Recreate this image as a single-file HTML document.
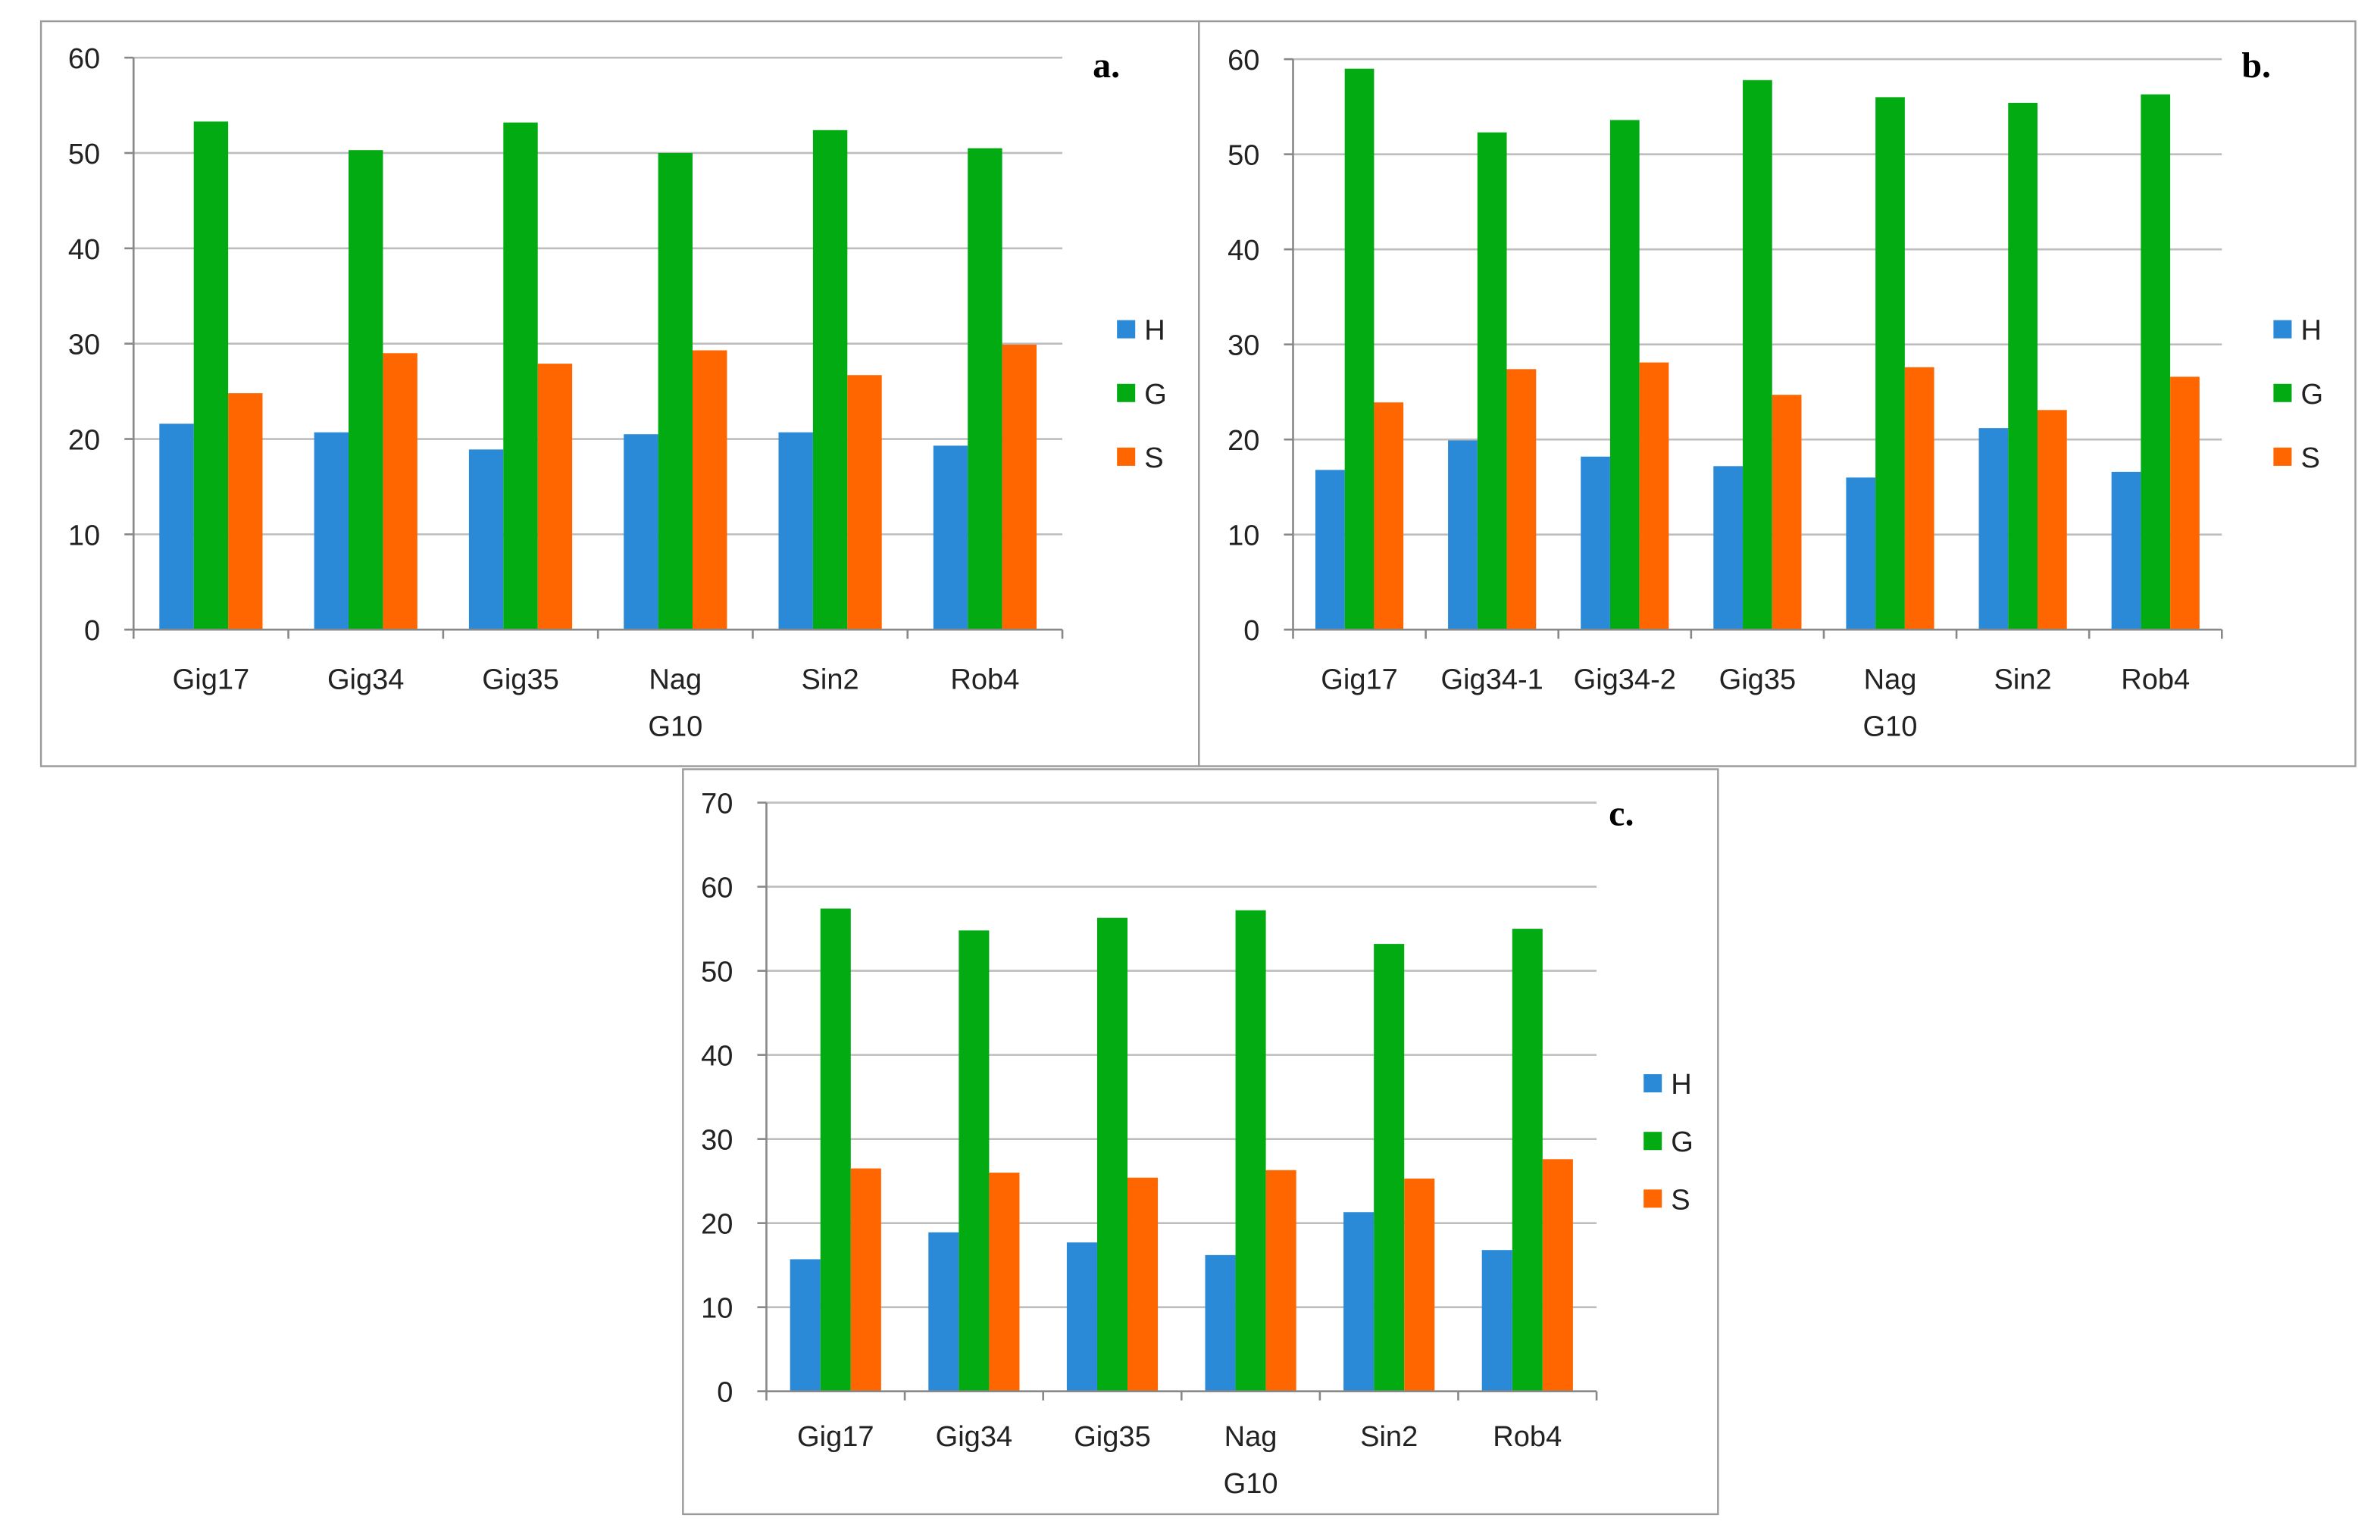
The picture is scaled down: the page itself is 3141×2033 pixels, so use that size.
<!DOCTYPE html>
<html><head><meta charset="utf-8"><style>html,body{margin:0;padding:0;background:#fff}svg{display:block}</style></head>
<body>
<svg id="fig" width="3141" height="2033" viewBox="0 0 1568.2 1015" xmlns="http://www.w3.org/2000/svg" font-family="Liberation Sans, DejaVu Sans, sans-serif">
<rect x="27" y="14" width="763" height="491" fill="none" stroke="#9a9a9a" stroke-width="1.2"/>
<rect x="790" y="14" width="762" height="491" fill="none" stroke="#9a9a9a" stroke-width="1.2"/>
<rect x="450" y="507" width="682" height="491" fill="none" stroke="#9a9a9a" stroke-width="1.2"/>
</svg>
<script>
const seriesNames = ['H','G','S'];
const catsA = [['Gig17'],['Gig34'],['Gig35'],['Nag','G10'],['Sin2'],['Rob4']];
const hA = [21.6,20.7,18.9,20.5,20.7,19.3];
const gA = [53.3,50.3,53.2,50.0,52.4,50.5];
const sA = [24.8,29.0,27.9,29.3,26.7,29.9];
const catsB = [['Gig17'],['Gig34-1'],['Gig34-2'],['Gig35'],['Nag','G10'],['Sin2'],['Rob4']];
const hB = [16.8,19.9,18.2,17.2,16.0,21.2,16.6];
const gB = [59.0,52.3,53.6,57.8,56.0,55.4,56.3];
const sB = [23.9,27.4,28.1,24.7,27.6,23.1,26.6];
const catsC = [['Gig17'],['Gig34'],['Gig35'],['Nag','G10'],['Sin2'],['Rob4']];
const hC = [15.7,18.9,17.7,16.2,21.3,16.8];
const gC = [57.4,54.8,56.3,57.2,53.2,55.0];
const sC = [26.5,26.0,25.4,26.3,25.3,27.6];
const ticksAB = [0,10,20,30,40,50,60];
const ticksC = [0,10,20,30,40,50,60,70];
const colors = ['#2a8ad8','#03ab13','#ff6600'];
const NS='http://www.w3.org/2000/svg';
const svg=document.getElementById('fig');
function mk(tag,attrs,parent){const e=document.createElementNS(NS,tag);for(const k in attrs)e.setAttribute(k,attrs[k]);(parent||svg).appendChild(e);return e;}
function panel(id,cfg,cats,series,ticks){
  const g=mk('g',{});
  
  
  const maxV=ticks[ticks.length-1];
  const y=v=>cfg.y0-(v/maxV)*(cfg.y0-cfg.yTop);
  const slot=(cfg.x1-cfg.x0)/cats.length;
  const xc=i=>cfg.x0+slot*(i+0.5);
  ticks.forEach(t=>{
    if(t>0){const l=mk('line',{x1:cfg.x0,x2:cfg.x1,y1:y(t),y2:y(t),stroke:'#bdbdbd','stroke-width':1.3},g);
    
    }
    const tk=mk('line',{x1:cfg.x0-6,x2:cfg.x0,y1:y(t),y2:y(t),stroke:'#888','stroke-width':1.3},g);
    
    
    const tx=mk('text',{x:cfg.x0-22,y:y(t)+7,'text-anchor':'end','font-size':19,fill:'#222'},g);
    tx.textContent=t;
    
    
  });
  const bw=cfg.gw/3;
  cats.forEach((c,i)=>{
    series.forEach((vals,s)=>{
      const bx=xc(i)-cfg.gw/2+s*bw;
      const r=mk('rect',{x:bx,y:y(vals[i]),width:bw,height:cfg.y0-y(vals[i]),fill:colors[s]},g);
      
      
    });
    c.forEach((line,k)=>{
      const t=mk('text',{x:xc(i),y:cfg.labY+k*31,'text-anchor':'middle','font-size':19,fill:'#222'},g);
      t.textContent=line;
      
      
    });
  });
  for(let i=0;i<=cats.length;i++){
    const xx=cfg.x0+slot*i;
    const tk=mk('line',{x1:xx,x2:xx,y1:cfg.y0,y2:cfg.y0+6,stroke:'#888','stroke-width':1.3},g);
    
    
  }
  const ax=mk('line',{x1:cfg.x0,x2:cfg.x0,y1:cfg.yTop,y2:cfg.y0,stroke:'#888','stroke-width':1.3},g);
  
  
  const xa=mk('line',{x1:cfg.x0-6,x2:cfg.x1,y1:cfg.y0,y2:cfg.y0,stroke:'#888','stroke-width':1.3},g);
  
  
  seriesNames.forEach((n,s)=>{
    const ly=cfg.legY[s];
    const r=mk('rect',{x:cfg.legX,y:ly-6,width:12,height:12,fill:colors[s]},g);
    
    
    const t=mk('text',{x:cfg.legX+18,y:ly+7,'font-size':19,fill:'#222'},g);
    t.textContent=n;
    
    
  });
  const pl=mk('text',{x:cfg.pX,y:cfg.pY,'font-size':24,'font-weight':'bold','font-family':'Liberation Serif, serif',fill:'#000'},g);
  pl.textContent=id+'.';
  
  
}
panel('a',{x0:88,x1:700,y0:415,yTop:38,gw:68,labY:454,legX:736,legY:[217,259,301],pX:720,pY:51},catsA,[hA,gA,sA],ticksAB);
panel('b',{x0:852,x1:1464,y0:415,yTop:39,gw:58,labY:454,legX:1498,legY:[217,259,301],pX:1477,pY:51},catsB,[hB,gB,sB],ticksAB);
panel('c',{x0:505,x1:1052,y0:917,yTop:529,gw:60,labY:953,legX:1083,legY:[714,752,790],pX:1060,pY:544},catsC,[hC,gC,sC],ticksC);
</script>
</body></html>
